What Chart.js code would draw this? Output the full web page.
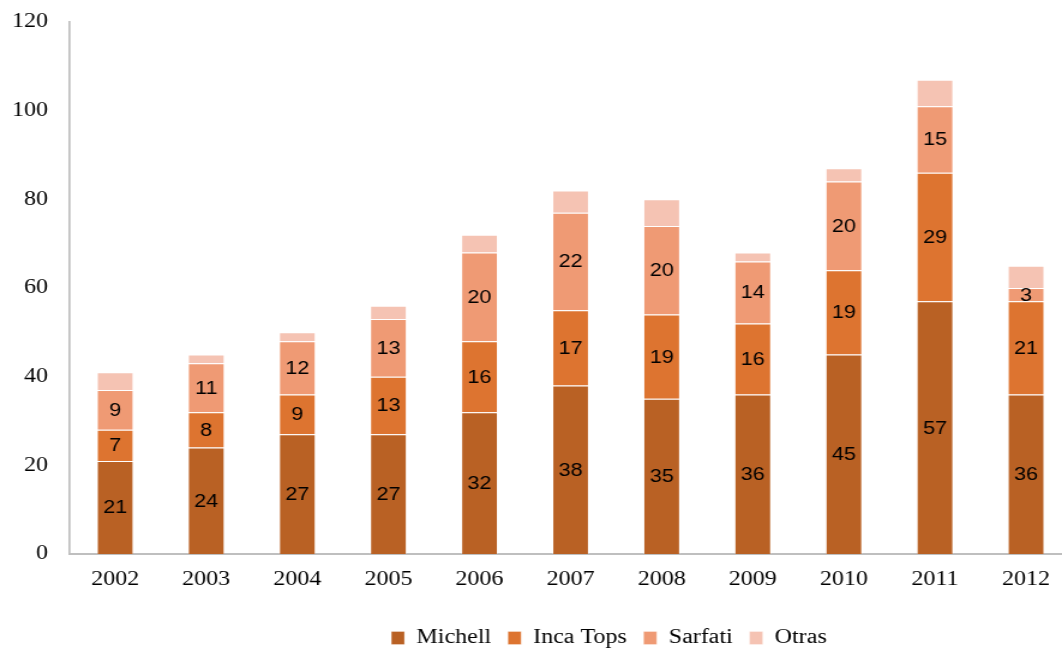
<!DOCTYPE html>
<html>
<head>
<meta charset="utf-8">
<script src="https://cdn.jsdelivr.net/npm/chart.js@4/dist/chart.umd.min.js"></script>
<style>
  html, body { margin: 0; padding: 0; background: #fff; overflow: hidden; }
  /* chart is drawn narrow and widened, which gives the broad lettering */
  #wrap { width: 893px; height: 649px; transform: scaleX(1.2); transform-origin: 0 0; }
</style>
</head>
<body>
<div id="wrap"><canvas id="exportChart"></canvas></div>
<script>
const years = ['2002', '2003', '2004', '2005', '2006', '2007', '2008', '2009', '2010', '2011', '2012'];
const michell = [21, 24, 27, 27, 32, 38, 35, 36, 45, 57, 36];
const incaTops = [7, 8, 9, 13, 16, 17, 19, 16, 19, 29, 21];
const sarfati = [9, 11, 12, 13, 20, 22, 20, 14, 20, 15, 3];
const otras = [4, 2, 2, 3, 4, 5, 6, 2, 3, 6, 5];

// value labels in the middle of each segment (Otras has none)
const segmentLabels = {
  id: 'segmentLabels',
  afterDatasetsDraw(chart) {
    const ctx = chart.ctx;
    ctx.save();
    ctx.font = '18px "Liberation Sans", Arial, sans-serif';
    ctx.fillStyle = '#000';
    ctx.textAlign = 'center';
    ctx.textBaseline = 'middle';
    chart.data.datasets.forEach((ds, i) => {
      if (ds.label === 'Otras') return;
      chart.getDatasetMeta(i).data.forEach((bar, j) => {
        const y = (bar.y + bar.base) / 2;
        ctx.fillText(String(ds.data[j]), bar.x, y + 1);
      });
    });
    ctx.restore();
  }
};

// push the legend a bit right of the canvas centre
const legendShift = {
  id: 'legendShift',
  afterLayout(chart) {
    chart.legend.left += 56;
    chart.legend.right += 56;
  }
};

const serif = '"Liberation Serif", "Times New Roman", serif';

new Chart(document.getElementById('exportChart'), {
  type: 'bar',
  data: {
    labels: years,
    datasets: [
      { label: 'Michell', data: michell, backgroundColor: '#B96124' },
      { label: 'Inca Tops', data: incaTops, backgroundColor: '#DD7430' },
      { label: 'Sarfati', data: sarfati, backgroundColor: '#EF9A74' },
      { label: 'Otras', data: otras, backgroundColor: '#F5C3B3' }
    ].map(d => Object.assign(d, {
      borderColor: 'rgba(255,255,255,0.3)',
      borderWidth: 1,
      barPercentage: 1,
      categoryPercentage: 0.407
    }))
  },
  options: {
    responsive: true,
    maintainAspectRatio: false,
    animation: false,
    layout: { padding: { left: 10, top: 22, right: 0, bottom: -9 } },
    plugins: {
      legend: {
        position: 'bottom',
        labels: {
          boxWidth: 11,
          boxHeight: 13,
          padding: 14,
          color: '#000',
          font: { family: serif, size: 20 }
        }
      },
      tooltip: { enabled: false }
    },
    scales: {
      x: {
        stacked: true,
        grid: { display: false, drawTicks: false },
        border: { color: '#BFBFBF', width: 2 },
        ticks: { color: '#000', padding: 14, font: { family: serif, size: 20 } },
        afterFit: scale => { scale.height += 8; }
      },
      y: {
        stacked: true,
        min: 0,
        max: 120,
        grid: { display: false, drawTicks: false },
        border: { color: '#BFBFBF', width: 1.7 },
        ticks: { stepSize: 20, color: '#000', padding: 18, font: { family: serif, size: 20 } },
        afterFit: scale => {
          scale.width = 48;
          scale.paddingTop = 0;
          scale.paddingBottom = 0;
        }
      }
    }
  },
  plugins: [segmentLabels, legendShift]
});
</script>
</body>
</html>
